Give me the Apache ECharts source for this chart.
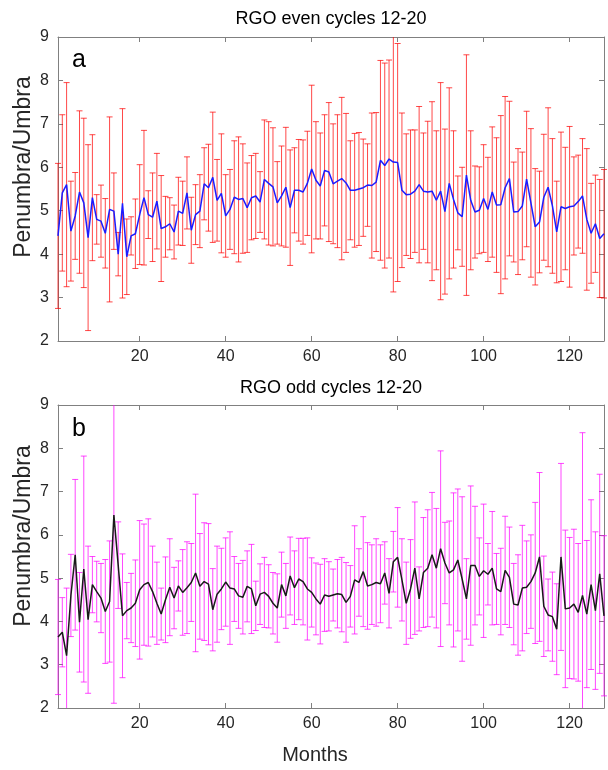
<!DOCTYPE html>
<html><head><meta charset="utf-8">
<script src="https://cdn.jsdelivr.net/npm/echarts@6/dist/echarts.min.js"></script>
<style>html,body{margin:0;padding:0;background:#fff}#c{width:608px;height:770px}</style>
</head><body><div id="c"></div>
<script>
// ---- data ----
const months = [];
for (let m = 1; m <= 128; m++) months.push(m);

const evenMean = [4.42,5.41,5.60,4.53,4.88,5.43,5.18,4.38,5.30,4.80,4.76,4.48,5.03,4.99,4.00,5.17,3.94,4.42,4.47,4.91,
5.30,4.91,4.85,5.22,4.59,4.63,4.70,4.51,4.99,4.94,5.41,4.55,4.91,4.99,5.62,5.53,5.77,5.24,5.40,4.88,
5.03,5.31,5.26,5.28,5.07,5.30,5.34,5.20,5.72,5.63,5.55,5.18,5.34,5.54,5.07,5.47,5.47,5.43,5.63,5.96,
5.70,5.57,5.93,5.89,5.62,5.68,5.74,5.64,5.47,5.47,5.50,5.53,5.59,5.58,5.66,6.16,6.04,6.19,6.12,6.11,
5.47,5.37,5.38,5.45,5.60,5.45,5.43,5.45,5.24,5.45,4.98,5.63,5.26,4.95,4.86,5.82,5.24,4.97,5.01,5.28,
5.03,5.43,5.13,5.14,5.53,5.74,4.97,4.98,5.11,5.73,5.18,4.63,4.74,5.31,5.54,5.11,4.51,5.09,5.05,5.09,
5.11,5.21,5.34,4.80,4.48,4.70,4.36,4.47];
const evenSd = [1.67,1.80,2.35,1.15,1.00,1.87,1.95,2.14,1.45,0.57,0.83,0.80,2.13,0.88,0.50,2.18,0.87,0.44,0.80,1.15,
1.55,0.55,1.02,1.10,1.22,0.70,0.60,0.62,0.78,0.74,0.83,0.76,0.69,0.84,0.83,1.00,1.50,0.94,1.37,0.95,
0.92,1.30,1.44,1.26,1.03,0.97,0.98,0.70,1.37,1.42,1.36,0.95,1.15,1.38,1.33,0.98,1.17,1.20,1.20,1.93,
1.35,1.22,1.28,1.60,1.38,1.53,1.87,1.60,1.14,1.31,1.30,1.12,0.95,1.67,1.60,2.30,2.36,2.28,2.99,2.74,
1.78,1.40,1.48,1.41,1.80,1.34,1.63,2.06,1.60,2.50,1.90,2.20,1.58,0.85,1.14,2.77,1.60,1.06,1.00,1.24,
1.20,1.50,1.55,2.05,2.10,1.78,1.15,1.45,1.24,1.56,1.71,1.34,1.17,1.45,1.83,1.55,1.17,1.72,1.41,1.85,
1.13,1.07,1.32,1.63,1.15,1.12,1.36,1.48];

const oddMean = [3.64,3.75,3.21,4.60,5.54,3.98,5.21,4.04,4.85,4.69,4.54,4.23,4.46,6.46,5.30,4.13,4.25,4.31,4.42,4.73,
4.85,4.90,4.69,4.42,4.17,4.50,4.79,4.54,4.82,4.67,4.78,4.90,5.12,4.81,4.92,4.86,4.27,4.63,4.75,4.91,
4.77,4.75,4.59,4.56,4.81,4.75,4.36,4.63,4.67,4.58,4.42,4.31,4.85,4.59,5.05,4.78,4.98,4.92,4.75,4.67,
4.52,4.40,4.61,4.58,4.61,4.64,4.62,4.44,4.58,4.96,4.90,5.15,4.82,4.85,4.90,4.87,5.12,4.65,5.38,5.48,
4.96,4.42,4.75,5.23,4.52,5.13,5.23,5.54,5.23,5.68,5.35,5.12,5.19,5.42,4.98,4.52,5.29,5.29,5.04,5.17,
5.09,5.23,4.75,4.69,5.18,5.02,4.40,4.38,4.77,4.79,4.92,5.12,5.49,4.35,4.15,4.11,3.82,5.49,4.29,4.31,
4.40,4.21,4.60,4.17,4.85,4.25,5.10,4.13];
const oddSd = [1.33,0.80,1.56,0.95,1.74,1.15,2.61,1.70,0.65,0.70,0.80,1.20,1.40,4.35,1.00,1.43,0.65,0.80,1.00,1.60,
1.40,1.47,1.05,0.95,0.60,0.99,1.12,0.71,0.58,0.99,1.06,0.90,1.82,1.22,1.36,1.40,0.95,1.11,0.94,1.02,
1.30,0.75,0.75,0.85,0.82,1.03,0.57,0.70,0.81,0.73,0.71,0.79,0.75,0.75,0.90,0.85,0.94,1.00,1.18,0.80,
0.83,0.92,0.84,0.80,0.60,0.79,0.86,0.92,0.71,1.25,0.78,1.27,1.00,0.92,1.01,0.90,0.72,0.80,0.70,1.15,
0.95,0.95,1.14,1.53,0.74,1.27,1.35,1.44,1.38,2.26,0.94,1.20,1.78,1.64,1.90,0.93,1.84,1.37,0.89,1.54,
0.71,1.31,0.82,1.00,1.25,1.16,0.94,1.16,1.45,1.07,1.08,1.63,1.95,1.16,0.83,1.03,1.05,2.16,1.82,1.63,
1.73,1.59,3.76,1.70,1.96,1.82,2.30,1.85];

const xTicks = [20,40,60,80,100,120];
const yMin = 2, yMax = 9;

// ---- chart ----
const FONT = 'Liberation Sans, Arial, Helvetica, sans-serif';
const AX = '#808080';
const LBL = '#262626';

function errRender(color){
  return function(params, api){
    const x = api.value(0), m = api.value(1), s = api.value(2);
    const lo = m - s, hi = m + s;
    const loC = Math.max(lo, yMin), hiC = Math.min(hi, yMax);
    const pT = api.coord([x, hiC]), pB = api.coord([x, loC]);
    const w = 3, st = {stroke: color, lineWidth: 1};
    const ch = [{type:'line', shape:{x1:pT[0], y1:pT[1], x2:pB[0], y2:pB[1]}, style:st}];
    if (hi <= yMax) ch.push({type:'line', shape:{x1:pT[0]-w, y1:pT[1], x2:pT[0]+w, y2:pT[1]}, style:st});
    if (lo >= yMin) ch.push({type:'line', shape:{x1:pB[0]-w, y1:pB[1], x2:pB[0]+w, y2:pB[1]}, style:st});
    return {type:'group', children: ch};
  };
}

function xAx(grid, pos, labels){
  return {
    type:'value', gridIndex:grid, position:pos, min:1, max:128,
    axisLine:{show:true, lineStyle:{color:AX, width:1}},
    axisTick:{show:true, inside:true, length:5, customValues:xTicks, lineStyle:{color:AX}},
    axisLabel:{show:labels, customValues:xTicks, color:LBL, fontSize:16, fontFamily:FONT, margin:8},
    splitLine:{show:false}
  };
}
function yAx(grid, pos, labels){
  return {
    type:'value', gridIndex:grid, position:pos, min:yMin, max:yMax, interval:1,
    axisLine:{show:true, lineStyle:{color:AX, width:1}},
    axisTick:{show:true, inside:true, length:5, lineStyle:{color:AX}},
    axisLabel:{show:labels, color:LBL, fontSize:16, fontFamily:FONT, margin:9},
    splitLine:{show:false}
  };
}

function errData(mean, sd){ return months.map((m,i)=>[m, mean[i], sd[i]]); }
function lineData(mean){ return months.map((m,i)=>[m, mean[i]]); }

const chart = echarts.init(document.getElementById('c'), null, {renderer:'canvas'});
chart.setOption({
  animation:false,
  backgroundColor:'#fff',
  grid:[
    {left:58, right:4, top:37, height:304},
    {left:58, right:4, top:405, height:303}
  ],
  xAxis:[xAx(0,'bottom',true), xAx(0,'top',false), xAx(1,'bottom',true), xAx(1,'top',false)],
  yAxis:[yAx(0,'left',true), yAx(0,'right',false), yAx(1,'left',true), yAx(1,'right',false)],
  series:[
    {type:'custom', xAxisIndex:0, yAxisIndex:0, renderItem:errRender('rgba(255,0,0,0.72)'), data:errData(evenMean, evenSd), z:2, silent:true},
    {type:'line', xAxisIndex:0, yAxisIndex:0, data:lineData(evenMean), showSymbol:false, lineStyle:{color:'#1c1cff', width:1.5}, z:5, silent:true},
    {type:'custom', xAxisIndex:2, yAxisIndex:2, renderItem:errRender('rgba(255,0,255,0.72)'), data:errData(oddMean, oddSd), z:2, silent:true},
    {type:'line', xAxisIndex:2, yAxisIndex:2, data:lineData(oddMean), showSymbol:false, lineStyle:{color:'#1a1a1a', width:1.5}, z:5, silent:true}
  ],
  graphic:[
    {type:'text', style:{text:'RGO even cycles 12-20', font:'18px '+FONT, fill:'#000', textAlign:'center', textVerticalAlign:'middle', x:331, y:19}},
    {type:'text', style:{text:'RGO odd cycles 12-20', font:'18px '+FONT, fill:'#000', textAlign:'center', textVerticalAlign:'middle', x:331, y:388}},
    {type:'text', style:{text:'a', font:'25px '+FONT, fill:'#000', textAlign:'left', textVerticalAlign:'middle', x:72, y:60}},
    {type:'text', style:{text:'b', font:'25px '+FONT, fill:'#000', textAlign:'left', textVerticalAlign:'middle', x:72, y:429}},
    {type:'text', rotation:Math.PI/2, x:24, y:167, style:{text:'Penumbra/Umbra', font:'23px '+FONT, fill:'#262626', textAlign:'center', textVerticalAlign:'middle'}},
    {type:'text', rotation:Math.PI/2, x:24, y:536, style:{text:'Penumbra/Umbra', font:'23px '+FONT, fill:'#262626', textAlign:'center', textVerticalAlign:'middle'}},
    {type:'text', x:315, y:755, style:{text:'Months', font:'20px '+FONT, fill:'#262626', textAlign:'center', textVerticalAlign:'middle'}}
  ]
});
</script></body></html>
